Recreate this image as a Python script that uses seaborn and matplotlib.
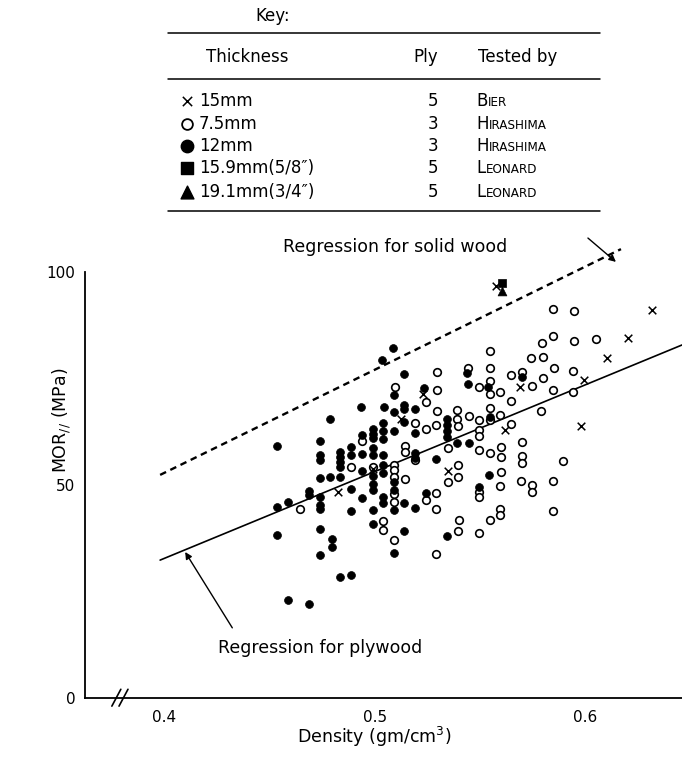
import matplotlib
matplotlib.use("Agg")
import matplotlib.pyplot as plt
import seaborn as sns
import pandas as pd

sns.set_theme(style="white")
plt.rcParams['font.family'] = ['DejaVu Sans']
plt.rcParams.update({"text.color": "black", "axes.labelcolor": "black",
                     "xtick.color": "black", "ytick.color": "black"})

# ---------------- data (density g/cm3, MOR MPa) ----------------
bier_density = [0.5125, 0.5229, 0.4826, 0.4992, 0.5576, 0.6317, 0.6203, 0.6103,
                0.5994, 0.5690, 0.5980, 0.5619, 0.5348]
bier_mor = [65.4, 71.3, 48.3, 53.7, 96.6, 91.0, 84.4, 79.7,
            74.6, 72.9, 63.8, 62.8, 53.2]

hira75_density = [0.5295, 0.5096, 0.5295, 0.5243, 0.5295,
                  0.4645, 0.4887, 0.4939, 0.4992, 0.5039, 0.5039, 0.5091, 0.5091, 0.5091,
                  0.5091, 0.5091, 0.5091, 0.5144, 0.5144, 0.5144, 0.5191, 0.5191, 0.5243,
                  0.5243, 0.5291, 0.5291, 0.5291, 0.5291,
                  0.5847, 0.5946, 0.5847, 0.5794, 0.5946, 0.6051, 0.5547, 0.5742, 0.5799,
                  0.5443, 0.5547, 0.5647, 0.5699, 0.5799, 0.5851, 0.5941, 0.5495, 0.5547,
                  0.5547, 0.5595, 0.5747, 0.5847, 0.5941, 0.5647, 0.5790, 0.5390, 0.5390,
                  0.5395, 0.5448, 0.5495, 0.5547, 0.5595, 0.5647, 0.5495, 0.5495, 0.5495,
                  0.5547, 0.5600, 0.5600, 0.5699, 0.5699, 0.5699, 0.5894, 0.5395, 0.5395,
                  0.5600, 0.5348, 0.5547,
                  0.5348, 0.5495, 0.5495, 0.5595, 0.5695, 0.5747, 0.5747, 0.5847, 0.5595,
                  0.5595, 0.5847, 0.5400, 0.5547, 0.5395, 0.5495]
hira75_mor = [76.5, 72.9, 72.2, 69.4, 67.3,
              44.3, 54.2, 60.3, 54.2, 41.5, 39.4, 54.6, 53.5, 51.8,
              47.8, 45.9, 37.0, 59.1, 57.7, 51.3, 64.5, 55.8, 63.1,
              46.4, 64.0, 48.1, 44.3, 33.7,
              91.2, 90.8, 84.9, 83.3, 83.7, 84.3, 81.4, 79.7, 80.0,
              77.4, 77.4, 75.8, 76.5, 75.0, 77.4, 76.7, 72.9, 74.3,
              71.3, 71.8, 73.2, 72.2, 71.8, 69.6, 67.3, 67.5, 65.4,
              63.8, 66.1, 65.2, 68.0, 66.4, 64.2, 62.8, 61.4, 58.1,
              57.4, 58.8, 56.5, 60.0, 56.7, 55.1, 55.6, 54.6, 51.8,
              53.0, 58.6, 65.2,
              50.6, 48.3, 47.1, 49.7, 50.9, 49.9, 48.3, 50.9, 44.3,
              42.9, 43.8, 41.7, 41.7, 39.1, 38.7]

hira12_density = [0.5086, 0.5034, 0.5139, 0.5091, 0.5234, 0.4934, 0.5044, 0.5139, 0.5139,
                  0.5191, 0.5091, 0.4787, 0.5139,
                  0.4535, 0.4535, 0.4535, 0.4588, 0.4588, 0.4687, 0.4687, 0.4687,
                  0.4740, 0.4740, 0.4740, 0.4740, 0.4740, 0.4740, 0.4740, 0.4740, 0.4740,
                  0.4787, 0.4797, 0.4797,
                  0.4835, 0.4835, 0.4835, 0.4835, 0.4835, 0.4835,
                  0.4887, 0.4887, 0.4887, 0.4887, 0.4887,
                  0.4939, 0.4939, 0.4939, 0.4939,
                  0.4992, 0.4992, 0.4992, 0.4992, 0.4992, 0.4992, 0.4992, 0.4992, 0.4992, 0.4992,
                  0.5039, 0.5039, 0.5039, 0.5039, 0.5039, 0.5039, 0.5039, 0.5039,
                  0.5091, 0.5091, 0.5091, 0.5091, 0.5091,
                  0.5139, 0.5139,
                  0.5191, 0.5191, 0.5191, 0.5191,
                  0.5243, 0.5291,
                  0.5438, 0.5443, 0.5538, 0.5343, 0.5343, 0.5343, 0.5343, 0.5390, 0.5448,
                  0.5543, 0.5547, 0.5699,
                  0.5495, 0.5343]
hira12_mor = [82.1, 79.3, 76.0, 71.1, 72.7, 68.2, 68.2, 68.7, 67.8,
              67.8, 67.1, 65.4, 64.7,
              59.1, 44.8, 38.2, 45.9, 22.9, 48.5, 47.6, 22.0,
              60.3, 57.0, 55.8, 51.6, 47.1, 45.2, 44.3, 39.6, 33.5,
              51.8, 37.3, 35.4,
              57.7, 56.5, 55.3, 54.2, 51.8, 28.3,
              58.8, 57.0, 49.0, 43.8, 28.8,
              61.7, 57.2, 53.2, 46.9,
              63.1, 61.9, 61.0, 58.6, 57.0, 52.0, 50.2, 48.8, 44.1, 40.8,
              64.5, 62.6, 60.7, 57.0, 54.6, 52.7, 47.1, 45.7,
              62.6, 50.6, 48.8, 44.1, 34.0,
              45.7, 39.1,
              62.1, 57.4, 56.3, 44.5,
              48.1, 56.0,
              76.2, 73.6, 72.9, 65.4, 64.0, 62.6, 61.2, 59.8, 59.8,
              52.3, 65.9, 75.3,
              49.5, 38.0]

leon159_density = [0.5604]
leon159_mor = [97.3]
leon191_density = [0.5604]
leon191_mor = [95.4]

# regression lines (end points)
plywood_reg_density = [0.398, 0.646]
plywood_reg_mor = [32.3, 82.8]
solidwood_reg_density = [0.398, 0.617]
solidwood_reg_mor = [52.3, 105.3]

# key
key_thickness = ["15mm", "7.5mm", "12mm", "15.9mm(5/8\u2033)", "19.1mm(3/4\u2033)"]
key_ply = ["5", "3", "3", "5", "5"]
key_tested = ["Bier", "Hirashima", "Hirashima", "Leonard", "Leonard"]

x_ticks = [0.4, 0.5, 0.6]
x_ticklabels = ["0.4", "0.5", "0.6"]
y_ticks = [0, 50, 100]
y_ticklabels = ["0", "50", "100"]

# ---------------- figure ----------------
W, H = 682, 764
fig = plt.figure(figsize=(W / 100, H / 100), dpi=100)

ax_left, ax_right, ax_bottom_px, ax_top_px = 85, 682, 697.7, 230
ax = fig.add_axes([ax_left / W, (H - ax_bottom_px) / H,
                   (ax_right - ax_left) / W, (ax_bottom_px - ax_top_px) / H])
px_per_mpa = 4.26
ax.set_xlim(0.3623, 0.646)
ax.set_ylim(0, (ax_bottom_px - ax_top_px) / px_per_mpa)

df_b = pd.DataFrame({"d": bier_density, "m": bier_mor})
df_o = pd.DataFrame({"d": hira75_density, "m": hira75_mor})
df_f = pd.DataFrame({"d": hira12_density, "m": hira12_mor})
df_s = pd.DataFrame({"d": leon159_density, "m": leon159_mor})
df_t = pd.DataFrame({"d": leon191_density, "m": leon191_mor})

sns.lineplot(x=plywood_reg_density, y=plywood_reg_mor, ax=ax, color="black",
             linewidth=1.2, zorder=1)
sns.lineplot(x=solidwood_reg_density, y=solidwood_reg_mor, ax=ax, color="black",
             linewidth=1.7, linestyle=(0, (2.8, 2.0)), zorder=1)

sns.scatterplot(data=df_o, x="d", y="m", ax=ax, marker="o", s=30,
                facecolor="white", edgecolor="black", linewidth=1.2, zorder=3)
sns.scatterplot(data=df_f, x="d", y="m", ax=ax, marker="o", s=32,
                color="black", edgecolor="black", linewidth=0.5, zorder=4)
sns.scatterplot(data=df_b, x="d", y="m", ax=ax, marker="x", s=30,
                color="black", linewidth=1.1, zorder=5)
sns.scatterplot(data=df_s, x="d", y="m", ax=ax, marker="s", s=34,
                color="black", edgecolor="black", linewidth=0.5, zorder=5)
sns.scatterplot(data=df_t, x="d", y="m", ax=ax, marker="^", s=40,
                color="black", edgecolor="black", linewidth=0.5, zorder=5)

for sp in ["top", "right"]:
    ax.spines[sp].set_visible(False)
for sp in ["left", "bottom"]:
    ax.spines[sp].set_color("black")
    ax.spines[sp].set_linewidth(1.3)
ax.spines["left"].set_bounds(0, 100)
ax.set_xticks(x_ticks)
ax.set_xticklabels(x_ticklabels)
ax.set_yticks(y_ticks)
ax.set_yticklabels(y_ticklabels)
ax.tick_params(axis="both", direction="in", length=9, width=1.2, color="black",
               labelsize=11, labelcolor="black")
ax.tick_params(axis="x", pad=9)
ax.tick_params(axis="y", pad=7)
lab_fs = 12.5
ax.set_xlabel("Density (gm/cm$^3$)", fontsize=lab_fs, color="black", va="center")
ax.set_ylabel("MOR$_{//}$ (MPa)", fontsize=lab_fs, color="black", va="center")
ax.xaxis.set_label_coords((374 - ax_left) / (ax_right - ax_left),
                          -(737 - ax_bottom_px) / (ax_bottom_px - ax_top_px))
ax.yaxis.set_label_coords(-(85 - 62) / (ax_right - ax_left),
                          (ax_bottom_px - 420) / (ax_bottom_px - ax_top_px))
ax.grid(False)

# axis break mark
for dx in (0.0, 0.012):
    ax.plot([0.045 + dx, 0.06 + dx], [-0.018, 0.018], transform=ax.transAxes,
            color="black", lw=1.2, clip_on=False)

# annotations
ax.text(0.4564, 105.8, "Regression for solid wood", fontsize=lab_fs,
        va="center", ha="left")
ax.annotate("", xy=(0.6146, 102.3), xytext=(0.6013, 107.9),
            arrowprops=dict(arrowstyle="-|>", color="black", lw=1.0,
                            shrinkA=0, shrinkB=0, mutation_scale=10))
ax.text(0.4255, 11.7, "Regression for plywood", fontsize=lab_fs,
        va="center", ha="left")
ax.annotate("", xy=(0.4099, 34.2), xytext=(0.4323, 16.4),
            arrowprops=dict(arrowstyle="-|>", color="black", lw=1.0,
                            shrinkA=0, shrinkB=0, mutation_scale=10))

# ---------------- key (pixel coordinates) ----------------
kax = fig.add_axes([0, (H - 220) / H, 1, 220 / H])
kax.set_xlim(0, W)
kax.set_ylim(220, 0)
kax.axis("off")

kfs = 12
kax.text(255, 16, "Key:", fontsize=kfs, va="center", ha="left")
for yy in (33, 79, 211):
    kax.plot([168, 600], [yy, yy], color="black", lw=1.1)
kax.text(206, 57, "Thickness", fontsize=kfs, va="center", ha="left")
kax.text(426, 57, "Ply", fontsize=kfs, va="center", ha="center")
kax.text(478, 57, "Tested by", fontsize=kfs, va="center", ha="left")

row_y = [101, 124, 146, 168, 192]
key_markers = [dict(marker="x", s=45, color="black", linewidth=1.1),
               dict(marker="o", s=60, facecolor="white", edgecolor="black", linewidth=1.3),
               dict(marker="o", s=80, color="black"),
               dict(marker="s", s=80, color="black"),
               dict(marker="^", s=85, color="black")]
fig.canvas.draw()
renderer = fig.canvas.get_renderer()
for i, yy in enumerate(row_y):
    kax.scatter([187], [yy], **key_markers[i])
    kax.text(199, yy, key_thickness[i], fontsize=kfs, va="center", ha="left")
    kax.text(433, yy, key_ply[i], fontsize=kfs, va="center", ha="center")
    name = key_tested[i]
    t1 = kax.text(476, yy + 5, name[0], fontsize=kfs, va="baseline", ha="left")
    bb = t1.get_window_extent(renderer=renderer)
    x_end = kax.transData.inverted().transform((bb.x1, bb.y0))[0]
    kax.text(x_end + 0.5, yy + 5, name[1:].upper(), fontsize=kfs * 0.72,
             va="baseline", ha="left")

fig.savefig("out.png", dpi=100)
